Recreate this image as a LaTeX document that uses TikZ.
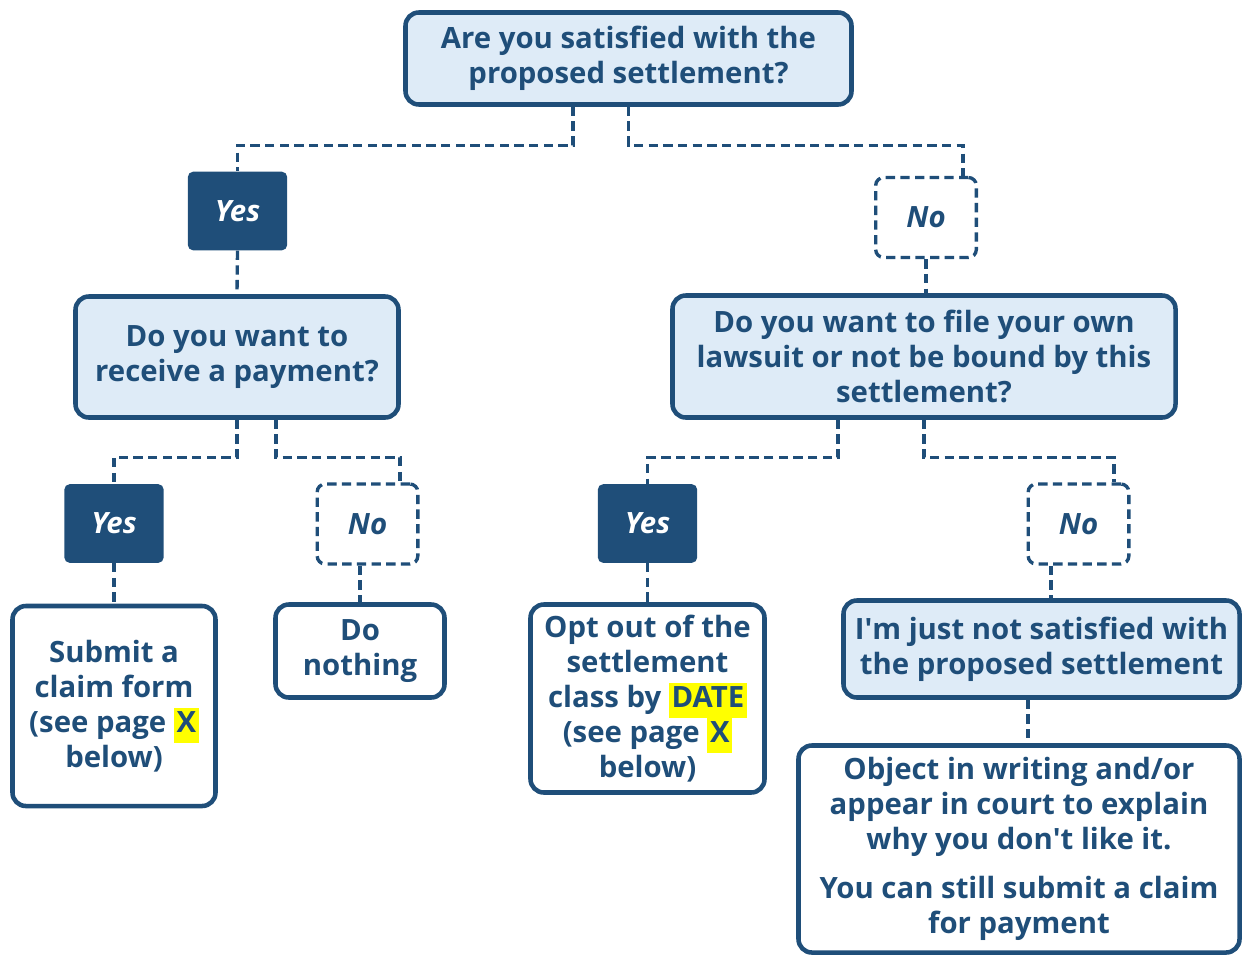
\documentclass[tikz,border=0pt]{standalone}
\usepackage{fontspec}
\setmainfont{Open Sans}
\usetikzlibrary{calc}
\definecolor{flowblue}{HTML}{1F4E79}
\definecolor{flowpale}{HTML}{DEEBF7}
\definecolor{marker}{HTML}{FFFF00}
\newcommand{\hlmark}[1]{{\setlength{\fboxsep}{0pt}\colorbox{marker}{\strut\hspace{2pt}#1\hspace{2pt}}}}
\begin{document}
\begin{tikzpicture}[x=0.75pt,y=-0.75pt,
 font=\fontsize{22}{26.25}\selectfont\bfseries,
 question/.style={draw=flowblue,fill=flowpale,line width=3.4pt,rounded corners=10pt,
   text=flowblue,align=center,inner sep=0pt},
 outcome/.style={question,fill=white},
 yesbox/.style={fill=flowblue,rounded corners=4pt,text=white,font=\fontsize{22}{26.25}\selectfont\bfseries\itshape,
   minimum width=74.5pt,minimum height=59pt,inner sep=0pt},
 nobox/.style={draw=flowblue,fill=white,line width=2.5pt,dash pattern=on 7pt off 4pt,rounded corners=6pt,
   text=flowblue,font=\fontsize{22}{26.25}\selectfont\bfseries\itshape,
   minimum width=75.5pt,minimum height=60pt,inner sep=0pt},
 link/.style={flowblue,line width=2.5pt,dash pattern=on 7pt off 4pt}]

\useasboundingbox (0,0) rectangle (1244,957);

% first question and its two answers
\node[question,minimum width=334.5pt,minimum height=69pt] (top) at (628.5,58.5)
  {Are you satisfied with the\\proposed settlement?};
\node[yesbox] (yes1) at (237.5,211) {Yes};
\node[nobox] (no1) at (926,217.5) {No};

% second level questions
\node[question,minimum width=242.25pt,minimum height=90.75pt] (pay) at (237,357)
  {Do you want to\\receive a payment?};
\node[question,minimum width=377.25pt,minimum height=91.5pt] (sue) at (924,356.5)
  {Do you want to file your own\\lawsuit or not be bound by this\\settlement?};

\node[yesbox] (yes2) at (114,523.5) {Yes};
\node[nobox] (no2) at (367.5,524) {No};
\node[yesbox] (yes3) at (647.5,523.5) {Yes};
\node[nobox] (no3) at (1078.5,524) {No};

% outcomes
\node[outcome,minimum width=152.25pt,minimum height=150pt] (claim) at (114,706)
  {Submit a\\claim form\\(see page \hlmark{X}\\below)};
\node[outcome,minimum width=126.75pt,minimum height=69.75pt] (nothing) at (360,651)
  {Do\\nothing};
\node[outcome,minimum width=175.5pt,minimum height=141pt] (optout) at (647.5,698.5)
  {Opt out of the\\settlement\\class by \hlmark{DATE}\\(see page \hlmark{X}\\below)};
\node[question,minimum width=297pt,minimum height=72.75pt] (unhappy) at (1041.5,649)
  {I\textquotesingle m just not satisfied with\\the proposed settlement};
\node[outcome,minimum width=330.75pt,minimum height=155.25pt] (object) at (1019,849)
  {Object in writing and/or\\appear in court to explain\\why you don\textquotesingle t like it.\\[10pt]
   You can still submit a claim\\for payment};

% dashed connectors
\draw[link] ($(top.south)+(-55.5,0)$) -- ++(0,38.5) -| (yes1.north);
\draw[link] (top.south) -- ++(0,38.5) -| ($(no1.north)+(37,0)$);
\draw[link] (yes1.south) -- (pay.north);
\draw[link] (no1.south) -- (no1.south |- sue.north);
\draw[link] (pay.south) -- ++(0,37.5) -| (yes2.north);
\draw[link] ($(pay.south)+(39,0)$) -- ++(0,37.5) -| ($(no2.north)+(32.5,0)$);
\draw[link] (yes2.south) -- (claim.north);
\draw[link] (nothing.north |- no2.south) -- (nothing.north);
\draw[link] ($(sue.south)+(-86,0)$) -- ++(0,38) -| (yes3.north);
\draw[link] (sue.south) -- ++(0,38) -| ($(no3.north)+(35.5,0)$);
\draw[link] (yes3.south) -- (optout.north);
\draw[link] ($(no3.south)+(-27.5,0)$) coordinate (n3) -- (n3 |- unhappy.north);
\draw[link] ($(unhappy.south)+(-13.5,0)$) coordinate (u1) -- (u1 |- object.north);
\end{tikzpicture}
\end{document}
